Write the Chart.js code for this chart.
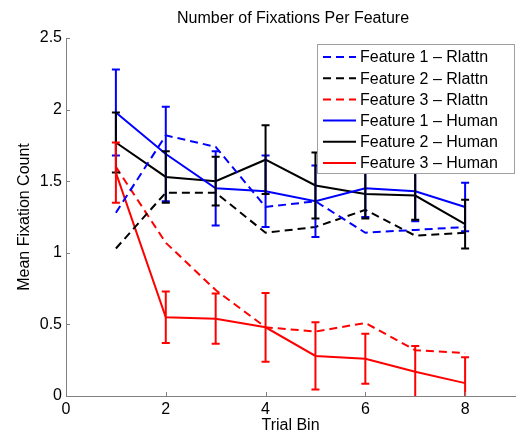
<!DOCTYPE html>
<html>
<head>
<meta charset="utf-8">
<script src="https://cdn.jsdelivr.net/npm/chart.js@4.4.1/dist/chart.umd.min.js"></script>
<style>
  html, body { margin: 0; padding: 0; background: #fff; }
</style>
</head>
<body>
<canvas id="chart" width="516" height="434"></canvas>
<script>
// data
const trialBins = [1, 2, 3, 4, 5, 6, 7, 8];
const xTicks = [0, 2, 4, 6, 8];
const yTicks = [0, 0.5, 1, 1.5, 2, 2.5];

const feat1Rlattn = [1.28, 1.82, 1.74, 1.32, 1.36, 1.14, 1.16, 1.18];
const feat2Rlattn = [1.03, 1.42, 1.42, 1.14, 1.18, 1.30, 1.12, 1.14];
const feat3Rlattn = [1.60, 1.07, 0.74, 0.48, 0.45, 0.51, 0.32, 0.30];

const feat1Human = [1.98, 1.69, 1.45, 1.43, 1.36, 1.45, 1.43, 1.32];
const feat2Human = [1.77, 1.53, 1.50, 1.65, 1.47, 1.41, 1.40, 1.20];
const feat3Human = [1.56, 0.55, 0.54, 0.48, 0.28, 0.26, 0.17, 0.09];

const feat1HumanErr = [0.30, 0.33, 0.26, 0.25, 0.25, 0.20, 0.21, 0.17];
const feat2HumanErr = [0.21, 0.18, 0.17, 0.24, 0.23, 0.17, 0.17, 0.17];
const feat3HumanErr = [0.21, 0.18, 0.175, 0.24, 0.235, 0.175, 0.18, 0.18];

const fontFamily = "'Liberation Sans', Arial, Helvetica, sans-serif";
const dash = [8, 5];

const toPoints = (vals) => vals.map((v, i) => ({ x: trialBins[i], y: v }));

function series(label, vals, color, dashed, errors) {
  return {
    label: label,
    data: toPoints(vals),
    borderColor: color,
    backgroundColor: color,
    borderWidth: 2,
    borderDash: dashed ? dash : [],
    pointRadius: 0,
    tension: 0,
    fill: false,
    errors: errors
  };
}

// vertical error bars with caps, clipped to the plot area
const errorBars = {
  id: 'errorBars',
  afterDatasetsDraw(chart) {
    const ctx = chart.ctx;
    const xs = chart.scales.x;
    const ys = chart.scales.y;
    const a = chart.chartArea;
    ctx.save();
    ctx.beginPath();
    ctx.rect(a.left, a.top, a.right - a.left, a.bottom - a.top);
    ctx.clip();
    chart.data.datasets.forEach(ds => {
      if (!ds.errors) return;
      ctx.strokeStyle = ds.borderColor;
      ctx.lineWidth = 2;
      ctx.setLineDash([]);
      ds.data.forEach((p, i) => {
        const px = xs.getPixelForValue(p.x);
        const top = ys.getPixelForValue(p.y + ds.errors[i]);
        const bot = ys.getPixelForValue(p.y - ds.errors[i]);
        ctx.beginPath();
        ctx.moveTo(px, top); ctx.lineTo(px, bot);
        ctx.moveTo(px - 4, top); ctx.lineTo(px + 4, top);
        ctx.moveTo(px - 4, bot); ctx.lineTo(px + 4, bot);
        ctx.stroke();
      });
    });
    ctx.restore();
  }
};

// inward tick marks, title and the boxed legend in the upper right
const decorations = {
  id: 'decorations',
  afterDraw(chart) {
    const ctx = chart.ctx;
    const xs = chart.scales.x;
    const ys = chart.scales.y;
    const a = chart.chartArea;
    ctx.save();

    ctx.strokeStyle = '#808080';
    ctx.lineWidth = 1;
    ctx.beginPath();
    xTicks.forEach(v => {
      const px = Math.round(xs.getPixelForValue(v)) + 0.5;
      ctx.moveTo(px, a.bottom);
      ctx.lineTo(px, a.bottom - 4);
    });
    yTicks.forEach(v => {
      const py = Math.round(ys.getPixelForValue(v)) + 0.5;
      ctx.moveTo(a.left, py);
      ctx.lineTo(a.left + 4, py);
    });
    ctx.stroke();

    ctx.fillStyle = '#000';
    ctx.font = '16px ' + fontFamily;
    ctx.textAlign = 'center';
    ctx.textBaseline = 'middle';
    ctx.fillText('Number of Fixations Per Feature', 293, 19);

    // legend box
    const bx = 317.5, by = 44.5, bw = 197, bh = 129;
    ctx.fillStyle = '#fff';
    ctx.fillRect(bx, by, bw, bh);
    ctx.strokeStyle = '#a0a0a0';
    ctx.strokeRect(bx, by, bw, bh);
    ctx.textAlign = 'left';
    chart.data.datasets.forEach((ds, i) => {
      const cy = 57 + i * 21.2;
      ctx.strokeStyle = ds.borderColor;
      ctx.lineWidth = 2;
      ctx.setLineDash(ds.borderDash);
      ctx.beginPath();
      ctx.moveTo(323, cy);
      ctx.lineTo(356, cy);
      ctx.stroke();
      ctx.fillStyle = '#000';
      ctx.fillText(ds.label, 360, cy + 1);
    });
    ctx.restore();
  }
};

new Chart(document.getElementById('chart'), {
  type: 'line',
  data: {
    datasets: [
      series('Feature 1 \u2013 Rlattn', feat1Rlattn, '#0000ff', true),
      series('Feature 2 \u2013 Rlattn', feat2Rlattn, '#000000', true),
      series('Feature 3 \u2013 Rlattn', feat3Rlattn, '#ff0000', true),
      series('Feature 1 \u2013 Human', feat1Human, '#0000ff', false, feat1HumanErr),
      series('Feature 2 \u2013 Human', feat2Human, '#000000', false, feat2HumanErr),
      series('Feature 3 \u2013 Human', feat3Human, '#ff0000', false, feat3HumanErr)
    ]
  },
  options: {
    responsive: false,
    animation: false,
    layout: { padding: { top: 38, right: 1, left: 0, bottom: 0 } },
    plugins: {
      legend: { display: false },
      title: { display: false },
      tooltip: { enabled: false }
    },
    scales: {
      x: {
        type: 'linear',
        min: 0,
        max: 9,
        afterBuildTicks: (s) => { s.ticks = xTicks.map(v => ({ value: v })); },
        afterFit: (s) => { s.height = 38; },
        grid: { display: false, drawTicks: false },
        border: { color: '#808080', width: 1 },
        ticks: { color: '#000', padding: 4, font: { size: 16, family: fontFamily }, callback: (v) => String(v) },
        title: {
          display: true,
          text: 'Trial Bin',
          color: '#000',
          padding: 0,
          font: { size: 16, family: fontFamily, lineHeight: 1 }
        }
      },
      y: {
        min: 0,
        max: 2.5,
        afterBuildTicks: (s) => { s.ticks = yTicks.map(v => ({ value: v })); },
        afterFit: (s) => { s.width = 66; },
        grid: { display: false, drawTicks: false },
        border: { color: '#808080', width: 1 },
        ticks: { color: '#000', padding: 4, font: { size: 16, family: fontFamily }, callback: (v) => String(v) },
        title: {
          display: true,
          text: 'Mean Fixation Count',
          color: '#000',
          padding: { top: 15, bottom: 0 },
          font: { size: 16, family: fontFamily }
        }
      }
    }
  },
  plugins: [errorBars, decorations]
});
</script>
</body>
</html>
